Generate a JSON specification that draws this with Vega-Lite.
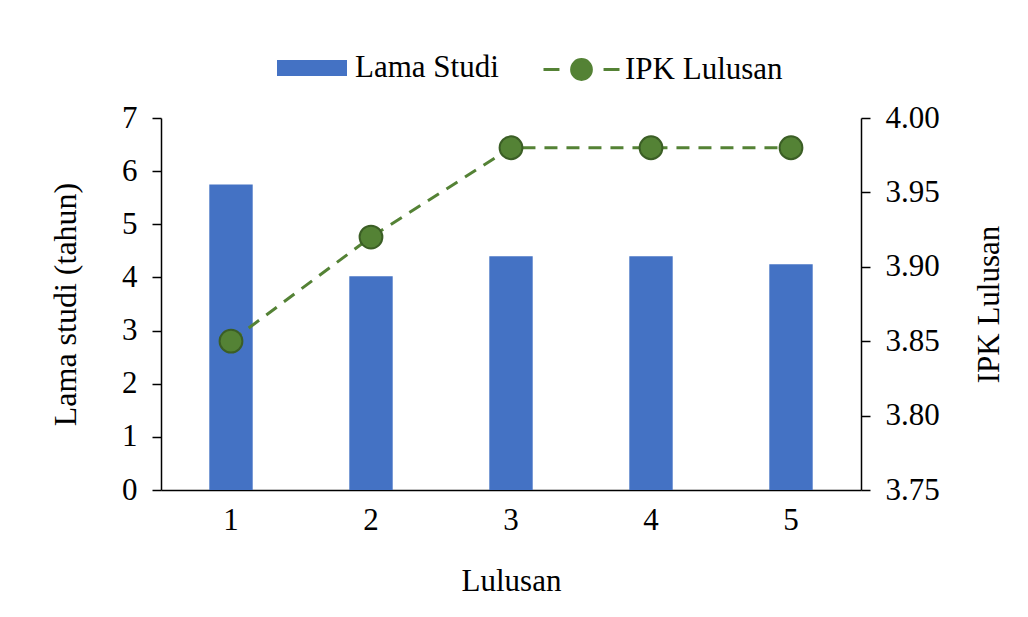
{
  "$schema": "https://vega.github.io/schema/vega-lite/v6.json",
  "width": 700,
  "height": 372,
  "autosize": "none",
  "padding": {"left": 161, "top": 118, "right": 167, "bottom": 127},
  "background": "white",
  "config": {
    "view": {"stroke": null},
    "font": "Liberation Serif",
    "axis": {"labelFont": "Liberation Serif", "titleFont": "Liberation Serif", "labelColor": "#000", "titleColor": "#000", "titleFontWeight": "normal", "domainColor": "#000", "tickColor": "#000", "grid": false, "domainWidth": 1.5, "tickWidth": 1.5},
    "legend": {"labelFont": "Liberation Serif", "labelColor": "#000", "labelFontSize": 31, "padding": 0}
  },
  "data": {"values": [
    {"lulusan": "1", "lama": 5.75, "ipk": 3.85},
    {"lulusan": "2", "lama": 4.02, "ipk": 3.92},
    {"lulusan": "3", "lama": 4.4, "ipk": 3.98},
    {"lulusan": "4", "lama": 4.4, "ipk": 3.98},
    {"lulusan": "5", "lama": 4.25, "ipk": 3.98}
  ]},
  "encoding": {
    "x": {"field": "lulusan", "type": "ordinal", "scale": {"paddingInner": 0, "paddingOuter": 0},
      "axis": {"title": "Lulusan", "labelAngle": 0, "labelFontSize": 31, "titleFontSize": 31, "ticks": false, "labelPadding": 15, "titlePadding": 31}}
  },
  "layer": [
    {
      "mark": {"type": "bar", "width": {"band": 0.31}},
      "encoding": {
        "y": {"field": "lama", "type": "quantitative", "scale": {"domain": [0, 7], "nice": false},
          "axis": {"title": "Lama studi (tahun)", "orient": "left", "values": [0,1,2,3,4,5,6,7], "labelFontSize": 31, "titleFontSize": 32, "tickSize": 9, "labelPadding": 15, "titlePadding": 39}},
        "fill": {"datum": "Lama Studi", "type": "nominal", "scale": {"domain": ["Lama Studi"], "range": ["#4472C4"]},
          "legend": {"title": null, "orient": "none", "legendX": 116, "legendY": -85, "symbolType": "M-1,-0.23H1V0.23H-1Z", "symbolSize": 4900, "labelOffset": 8, "symbolStrokeWidth": 0}}
      }
    },
    {
      "encoding": {
        "y": {"field": "ipk", "type": "quantitative", "scale": {"domain": [3.75, 4.0], "nice": false, "zero": false},
          "axis": {"title": "IPK Lulusan", "orient": "right", "values": [3.75, 3.8, 3.85, 3.9, 3.95, 4.0], "format": ".2f", "labelFontSize": 31, "titleFontSize": 31, "titleAngle": 270, "tickSize": 9, "labelPadding": 15, "titlePadding": 66}}
      },
      "layer": [
        {
          "mark": {"type": "line", "strokeWidth": 3, "strokeDash": [13, 9]},
          "encoding": {
            "stroke": {"datum": "IPK Lulusan", "type": "nominal", "scale": {"domain": ["IPK Lulusan"], "range": ["#548235"]},
              "legend": {"title": null, "orient": "none", "legendX": 381, "legendY": -88, "symbolType": "M-1,0H-0.58M-0.26,0A0.26,0.26 0 1,0 0.26,0A0.26,0.26 0 1,0 -0.26,0M0.58,0H1", "symbolSize": 5776, "symbolStrokeWidth": 3, "labelOffset": 4,
                "encode": {"symbols": {"update": {"fill": {"value": "#548235"}, "stroke": {"value": "#548235"}}}}}}
          }
        },
        {
          "mark": {"type": "point", "filled": true, "fill": "#548235", "stroke": "#3B5E25", "strokeWidth": 2, "size": 520, "opacity": 1}
        }
      ]
    }
  ],
  "resolve": {"scale": {"y": "independent"}}
}
